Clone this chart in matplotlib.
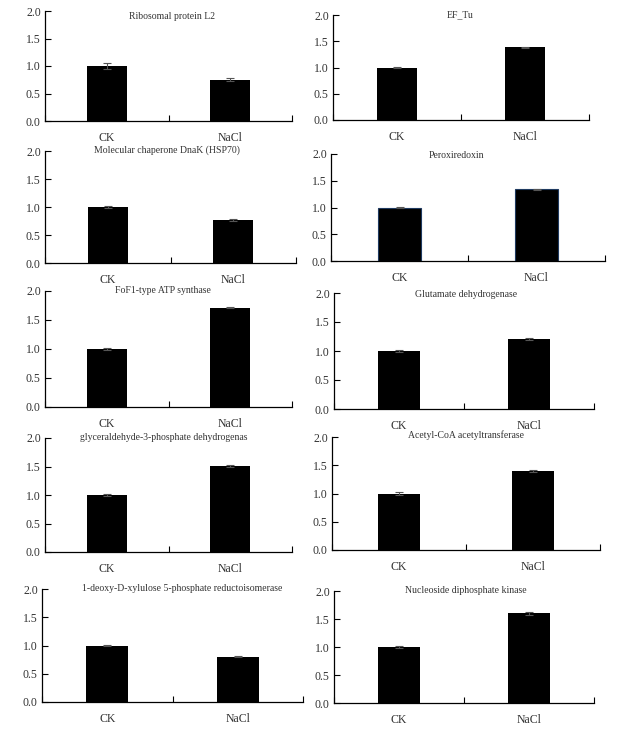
import numpy as np
import matplotlib.pyplot as plt

plt.rcParams['font.family'] = ['Liberation Serif', 'DejaVu Serif']

groups = ['CK', 'NaCl']
titles = ['Ribosomal protein L2', 'EF_Tu',
          'Molecular chaperone DnaK (HSP70)', 'Peroxiredoxin',
          'FoF1-type ATP synthase', 'Glutamate dehydrogenase',
          'glyceraldehyde-3-phosphate dehydrogenas', 'Acetyl-CoA acetyltransferase',
          '1-deoxy-D-xylulose 5-phosphate reductoisomerase', 'Nucleoside diphosphate kinase']
ck_vals = [1.0, 1.0, 1.0, 1.0, 1.0, 1.0, 1.0, 1.0, 1.0, 1.0]
nacl_vals = [0.75, 1.39, 0.77, 1.34, 1.71, 1.21, 1.51, 1.40, 0.80, 1.60]
ck_err = [0.05, 0.01, 0.02, 0.01, 0.01, 0.02, 0.01, 0.02, 0.01, 0.02]
nacl_err = [0.03, 0.01, 0.02, 0.01, 0.01, 0.02, 0.01, 0.02, 0.01, 0.03]

W, H = 638, 731
# axes boxes in pixels: left, top, right, bottom
boxes = [(45, 11, 292, 121), (333, 15, 589, 120),
         (45, 151, 296, 263), (331, 154, 605, 261),
         (45, 291, 292, 407), (334, 293, 594, 409),
         (45, 438, 292, 552), (332, 437, 600, 550),
         (42, 589, 303, 702), (334, 591, 594, 703)]
# title centre x and top y in pixels
title_pos = [(172, 12), (460, 10), (167, 145), (456, 151), (163, 286),
             (466, 290), (164, 433), (466, 430), (182, 584), (466, 586)]

fig = plt.figure(figsize=(W / 100, H / 100), dpi=100)
txt = '#333333'

for i in range(10):
    l, t, r, b = boxes[i]
    ax = fig.add_axes([l / W, 1 - b / H, (r - l) / W, (b - t) / H])
    edge = '#1f3a60' if i == 3 else 'black'
    ax.bar([0.5, 1.5], [ck_vals[i], nacl_vals[i]], width=0.32, color='black',
           edgecolor=edge, linewidth=0.8 if i == 3 else 0)
    ax.errorbar([0.5, 1.5], [ck_vals[i], nacl_vals[i]], yerr=[ck_err[i], nacl_err[i]],
                fmt='none', ecolor='#555555', elinewidth=0.8, capsize=3, capthick=0.8)
    ax.set_xlim(0, 2)
    ax.set_ylim(0, 2)
    ax.set_yticks(np.arange(0, 2.01, 0.5))
    ax.set_yticklabels(['%.1f' % v for v in np.arange(0, 2.01, 0.5)])
    ax.set_xticks([0, 1, 2])
    ax.set_xticklabels([])
    ax.set_xticks([0.5, 1.5], minor=True)
    ax.set_xticklabels(groups, minor=True)
    ax.tick_params(axis='x', which='major', direction='in', length=4, width=0.8)
    ax.tick_params(axis='x', which='minor', length=0, pad=8, labelsize=8.5, labelcolor=txt)
    ax.tick_params(axis='y', direction='in', length=4, width=0.8, labelsize=8.5,
                   labelcolor=txt, pad=3)
    for s in ['top', 'right']:
        ax.spines[s].set_visible(False)
    for s in ['left', 'bottom']:
        ax.spines[s].set_linewidth(0.9)
    tx, ty = title_pos[i]
    fig.text(tx / W, 1 - ty / H, titles[i], ha='center', va='top', fontsize=7, color=txt)

fig.savefig('out.png', dpi=100)
